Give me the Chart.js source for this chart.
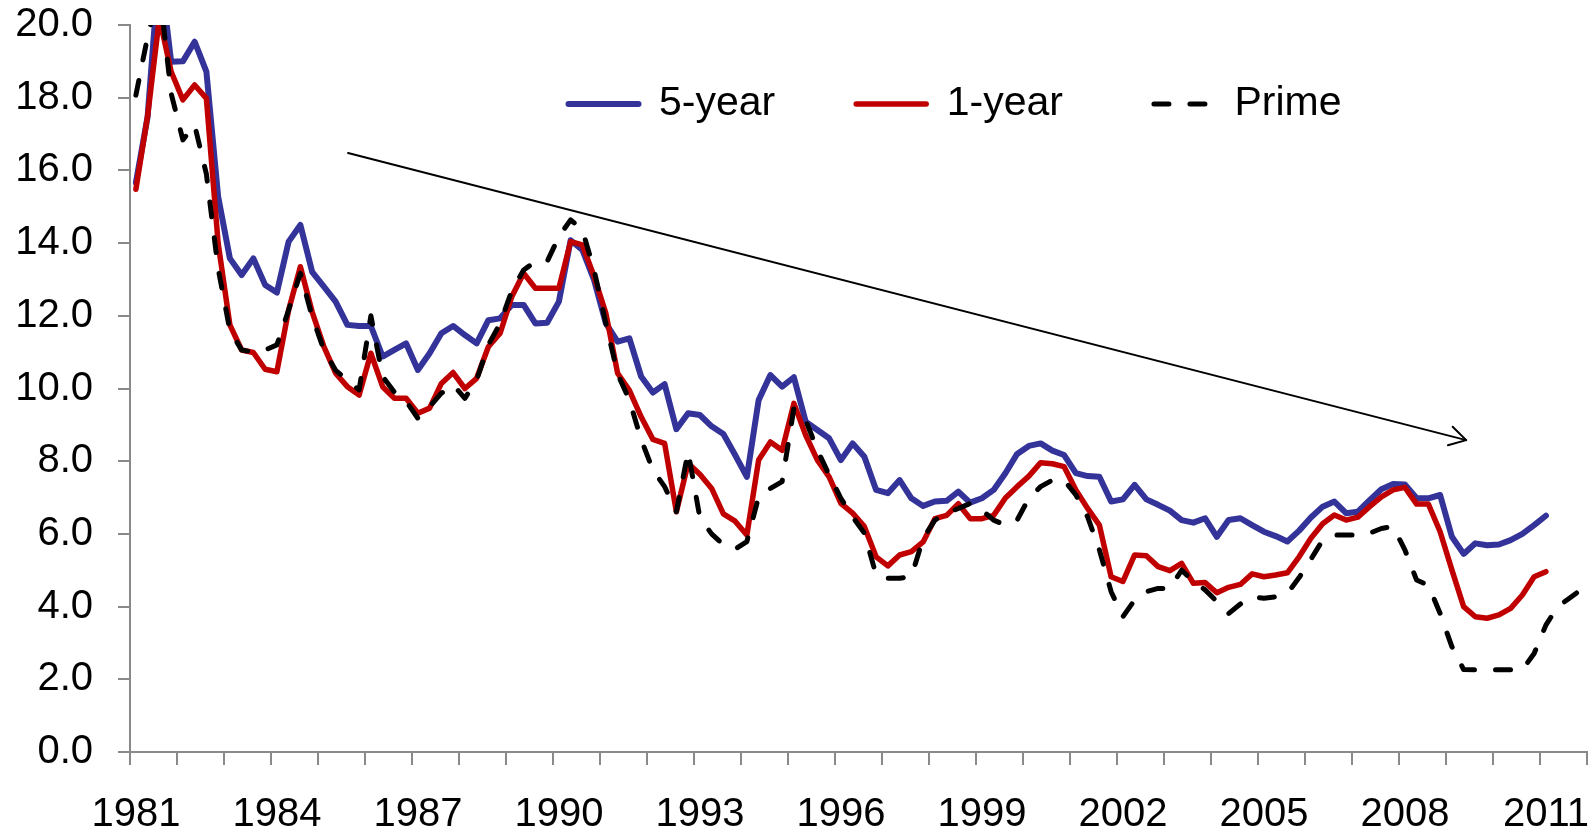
<!DOCTYPE html>
<html>
<head>
<meta charset="utf-8">
<script src="https://cdn.jsdelivr.net/npm/chart.js@4.4.1/dist/chart.umd.min.js"></script>
<style>
  html, body { margin: 0; padding: 0; background: #ffffff; }
  #wrap { width: 1596px; height: 833px; position: relative; }
</style>
</head>
<body>
<div id="wrap"><canvas id="c"></canvas></div>
<script>
// ---- Data (quarterly, starting 1981 Q1) ----
const startYear = 1981;
const endYear = 2012;
const seriesNames = ['5-year', '1-year', 'Prime'];

const fiveYear = [
  15.66, 17.48, 21.7, 18.99, 19.0, 19.54, 18.72, 15.28, 13.58, 13.12,
  13.58, 12.85, 12.64, 14.04, 14.5, 13.21, 12.8, 12.39, 11.75, 11.72,
  11.72, 10.88, 11.06, 11.24, 10.51, 10.97, 11.52, 11.72, 11.47, 11.24,
  11.88, 11.93, 12.3, 12.3, 11.79, 11.81, 12.39, 14.08, 13.81, 12.98,
  11.79, 11.29, 11.38, 10.33, 9.89, 10.12, 8.88, 9.32, 9.27, 8.96,
  8.75, 8.17, 7.57, 9.68, 10.37, 10.05, 10.31, 9.09, 8.86, 8.63,
  8.03, 8.49, 8.12, 7.21, 7.12, 7.48, 6.98, 6.77, 6.89, 6.91,
  7.16, 6.86, 6.98, 7.21, 7.67, 8.2, 8.42, 8.49, 8.29, 8.17,
  7.67, 7.59, 7.57, 6.89, 6.95, 7.35, 6.95, 6.8, 6.64, 6.38,
  6.31, 6.43, 5.92, 6.38, 6.43, 6.24, 6.06, 5.94, 5.79, 6.09,
  6.45, 6.75, 6.89, 6.57, 6.61, 6.93, 7.23, 7.37, 7.36, 6.98,
  6.98, 7.07, 5.92, 5.45, 5.74, 5.69, 5.71, 5.83, 6.0, 6.24,
  6.5
];

const oneYear = [
  15.48, 17.5, 20.2, 18.72, 17.94, 18.35, 17.98, 14.0, 11.75, 11.06,
  10.99, 10.53, 10.46, 12.16, 13.35, 12.11, 11.15, 10.42, 10.05, 9.82,
  10.97, 10.05, 9.73, 9.73, 9.32, 9.46, 10.14, 10.44, 10.0, 10.28,
  11.15, 11.52, 12.53, 13.17, 12.76, 12.76, 12.76, 14.04, 13.95, 13.08,
  12.07, 10.42, 9.95, 9.22, 8.6, 8.49, 6.61, 7.94, 7.64, 7.25,
  6.55, 6.35, 5.97, 8.03, 8.53, 8.3, 9.59, 8.72, 8.03, 7.57,
  6.84, 6.57, 6.2, 5.37, 5.12, 5.42, 5.51, 5.78, 6.42, 6.51,
  6.83, 6.42, 6.42, 6.51, 6.99, 7.3, 7.59, 7.96, 7.93, 7.85,
  7.21, 6.7, 6.24, 4.82, 4.69, 5.42, 5.4, 5.1, 4.99, 5.19,
  4.64, 4.66, 4.38, 4.53, 4.61, 4.9, 4.82, 4.87, 4.93, 5.37,
  5.88, 6.28, 6.52, 6.38, 6.46, 6.75, 7.02, 7.21, 7.28, 6.82,
  6.82, 6.06, 5.01, 4.0, 3.72, 3.68, 3.77, 3.95, 4.32, 4.82,
  4.96
];

const prime = [
  18.07, 19.68, 21.0, 18.12, 16.84, 17.25, 15.9, 13.3, 11.6, 11.06,
  11.0, 11.06, 11.2, 12.16, 13.17, 11.98, 11.06, 10.5, 10.23, 9.96,
  12.0, 10.33, 9.9, 9.65, 9.18, 9.5, 9.87, 10.1, 9.73, 10.23,
  11.2, 11.79, 12.7, 13.26, 13.49, 13.49, 14.18, 14.64, 14.36, 13.26,
  11.79, 10.4, 9.68, 8.6, 7.76, 7.3, 6.61, 8.26, 6.45, 6.0,
  5.7, 5.58, 5.79, 7.02, 7.25, 7.44, 9.45, 9.13, 8.31, 7.62,
  6.98, 6.47, 6.02, 4.87, 4.78, 4.78, 4.82, 5.88, 6.38, 6.57,
  6.7, 6.84, 6.66, 6.38, 6.24, 6.38, 6.98, 7.3, 7.48, 7.48,
  7.07, 6.47, 5.56, 4.41, 3.72, 4.18, 4.41, 4.5, 4.5, 5.0,
  4.69, 4.46, 4.14, 3.81, 4.07, 4.27, 4.23, 4.27, 4.36, 4.8,
  5.3, 5.83, 5.97, 5.97, 5.97, 6.02, 6.15, 6.2, 5.56, 4.73,
  4.59, 3.81, 2.9, 2.27, 2.26, 2.26, 2.26, 2.26, 2.26, 2.71,
  3.49, 4.0, 4.23, 4.47
];

// Year labels shown on the axis (every third year)
const yearLabels = [1981, 1984, 1987, 1990, 1993, 1996, 1999, 2002, 2005, 2008, 2011];
// Trend arrow annotation, in data units [year, rate]
const trendArrowFrom = [1985.64, 16.48];
const trendArrowTo = [2009.43, 8.58];

// ---- Build points: each quarter sits at the middle of its quarter ----
function quarterPoints(values) {
  return values.map((v, i) => ({ x: startYear + i / 4 + 0.125, y: v }));
}

const FONT = '"Liberation Sans", Arial, Helvetica, sans-serif';
const AXIS_GREY = '#898989';

const arrowPlugin = {
  id: 'trendArrow',
  afterDatasetsDraw(chart) {
    const { ctx, scales } = chart;
    const x0 = scales.x.getPixelForValue(trendArrowFrom[0]);
    const y0 = scales.y.getPixelForValue(trendArrowFrom[1]);
    const x1 = scales.x.getPixelForValue(trendArrowTo[0]);
    const y1 = scales.y.getPixelForValue(trendArrowTo[1]);
    const ang = Math.atan2(y1 - y0, x1 - x0);
    const head = 19, spread = Math.PI / 6;
    ctx.save();
    ctx.strokeStyle = '#000000';
    ctx.lineWidth = 2;
    ctx.lineCap = 'round';
    ctx.lineJoin = 'round';
    ctx.beginPath();
    ctx.moveTo(x0, y0);
    ctx.lineTo(x1, y1);
    ctx.stroke();
    ctx.beginPath();
    ctx.moveTo(x1 - head * Math.cos(ang - spread), y1 - head * Math.sin(ang - spread));
    ctx.lineTo(x1, y1);
    ctx.lineTo(x1 - head * Math.cos(ang + spread), y1 - head * Math.sin(ang + spread));
    ctx.stroke();
    ctx.restore();
  }
};

const legendPlacement = {
  id: 'legendPlacement',
  afterLayout(chart) {
    const lg = chart.legend;
    if (!lg) return;
    lg.left = 487.5;
    lg.right = 1592;
    lg.top = 2.5;
    lg.width = lg.right - lg.left;
  }
};

const chart = new Chart(document.getElementById('c'), {
  type: 'line',
  data: {
    datasets: [
      {
        label: seriesNames[0],
        data: quarterPoints(fiveYear),
        borderColor: '#333399',
        backgroundColor: '#333399',
        borderWidth: 6,
        borderCapStyle: 'round',
        borderJoinStyle: 'round',
        pointRadius: 0,
        tension: 0,
        order: 3
      },
      {
        label: seriesNames[1],
        data: quarterPoints(oneYear),
        borderColor: '#C00000',
        backgroundColor: '#C00000',
        borderWidth: 5.5,
        borderCapStyle: 'round',
        borderJoinStyle: 'round',
        pointRadius: 0,
        tension: 0,
        order: 2
      },
      {
        label: seriesNames[2],
        data: quarterPoints(prime),
        borderColor: '#000000',
        backgroundColor: '#000000',
        borderWidth: 5,
        borderDash: [15, 21],
        borderCapStyle: 'round',
        borderJoinStyle: 'round',
        pointRadius: 0,
        tension: 0,
        order: 1
      }
    ]
  },
  options: {
    responsive: true,
    maintainAspectRatio: false,
    animation: false,
    devicePixelRatio: 1,
    layout: { padding: { top: 25, right: 9, left: 0, bottom: 0 } },
    plugins: {
      tooltip: { enabled: false },
      legend: {
        display: true,
        position: 'chartArea',
        align: 'start',
        labels: {
          usePointStyle: true,
          pointStyle: 'line',
          pointStyleWidth: 70,
          padding: 81,
          color: '#000000',
          font: { family: FONT, size: 41 },
          generateLabels(chart) {
            const items = Chart.defaults.plugins.legend.labels.generateLabels(chart);
            items.forEach((it) => {
              const ds = chart.data.datasets[it.datasetIndex];
              it.lineWidth = ds.borderWidth;
              it.strokeStyle = ds.borderColor;
              it.lineCap = ds.borderCapStyle;
              it.lineDash = ds.borderDash || [];
              it.lineDashOffset = ds.borderDash ? -10 : 0;
            });
            return items;
          },
          sort: (a, b) => a.datasetIndex - b.datasetIndex
        }
      }
    },
    scales: {
      x: {
        type: 'linear',
        min: startYear,
        max: endYear,
        afterFit(scale) { scale.height = 81; },
        ticks: {
          stepSize: 1,
          autoSkip: false,
          maxRotation: 0,
          minRotation: 0,
          labelOffset: 6,
          padding: 0,
          color: '#000000',
          font: { family: FONT, size: 40, lineHeight: 2.5 },
          callback: (v) => yearLabels.includes(v) ? String(v) : ''
        },
        grid: {
          drawOnChartArea: false,
          drawTicks: true,
          tickLength: 13,
          color: AXIS_GREY,
          lineWidth: 2
        },
        border: { display: true, color: AXIS_GREY, width: 2 }
      },
      y: {
        min: 0,
        max: 20,
        afterFit(scale) { scale.width = 130; },
        ticks: {
          stepSize: 2,
          padding: 25,
          color: '#000000',
          font: { family: FONT, size: 40, lineHeight: 0 },
          callback: (v) => Number(v).toFixed(1)
        },
        grid: {
          drawOnChartArea: false,
          drawTicks: true,
          tickLength: 12,
          color: AXIS_GREY,
          lineWidth: 2
        },
        border: { display: true, color: AXIS_GREY, width: 2 }
      }
    }
  },
  plugins: [arrowPlugin, legendPlacement]
});

// Lay the legend out in a row inside the plot area.
chart.legend.isHorizontal = () => true;
chart.update();
</script>
</body>
</html>
